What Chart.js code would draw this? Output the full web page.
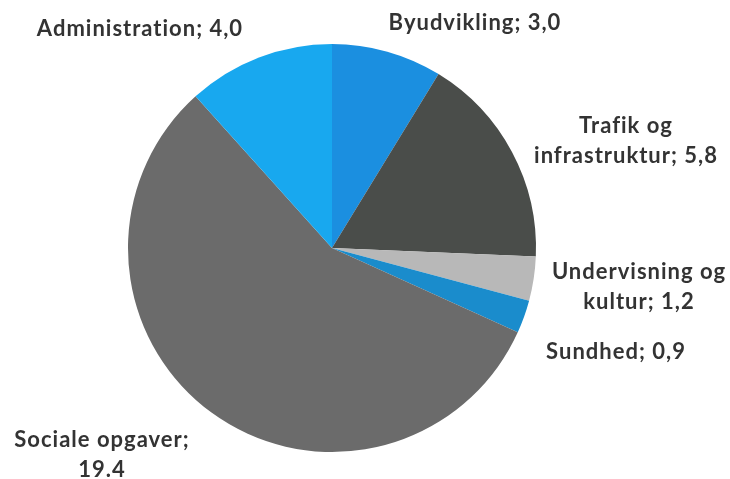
<!DOCTYPE html>
<html>
<head>
<meta charset="utf-8">
<script src="https://cdn.jsdelivr.net/npm/chart.js@4/dist/chart.umd.min.js"></script>
<style>
html,body{margin:0;padding:0;background:#fff;}
#wrap{position:relative;width:730px;height:479px;}
</style>
</head>
<body>
<div id="wrap"><canvas id="c" width="730" height="479"></canvas></div>
<script>
const categories = ["Byudvikling", "Trafik og infrastruktur", "Undervisning og kultur", "Sundhed", "Sociale opgaver", "Administration"];
const values = [3.0, 5.8, 1.2, 0.9, 19.4, 4.0];
const valueLabels = ["3,0", "5,8", "1,2", "0,9", "19.4", "4,0"];
const colors = ["#1b8fe0", "#4a4d4a", "#b8b8b8", "#1a8ccc", "#6b6b6b", "#18a8ef"];

// label layout: lines and centre positions
const labelLayout = [
  {lines: ["Byudvikling; " + valueLabels[0]], x: 475, y: 23},
  {lines: ["Trafik og", "infrastruktur; " + valueLabels[1]], x: 626, y: 126},
  {lines: ["Undervisning og", "kultur; " + valueLabels[2]], x: 639, y: 272},
  {lines: ["Sundhed; " + valueLabels[3]], x: 616, y: 352},
  {lines: ["Sociale opgaver;", valueLabels[4]], x: 102, y: 440},
  {lines: ["Administration; " + valueLabels[5]], x: 140, y: 29}
];

const labelPlugin = {
  id: 'labels',
  afterDraw(chart) {
    const ctx = chart.ctx;
    ctx.save();
    ctx.fillStyle = '#333333';
    ctx.font = 'bold 22px Lato';
    if ('letterSpacing' in ctx) ctx.letterSpacing = '1px';
    ctx.textAlign = 'center';
    ctx.textBaseline = 'middle';
    labelLayout.forEach(l => {
      l.lines.forEach((t, i) => ctx.fillText(t, l.x, l.y + i * 30));
    });
    ctx.restore();
  }
};

new Chart(document.getElementById('c'), {
  type: 'pie',
  data: {
    labels: categories,
    datasets: [{
      data: values,
      backgroundColor: colors,
      borderWidth: 0
    }]
  },
  options: {
    responsive: false,
    animation: false,
    layout: {padding: {left: 128, right: 194, top: 44, bottom: 27}},
    plugins: {
      legend: {display: false},
      tooltip: {enabled: false}
    }
  },
  plugins: [labelPlugin]
});
</script>
</body>
</html>
